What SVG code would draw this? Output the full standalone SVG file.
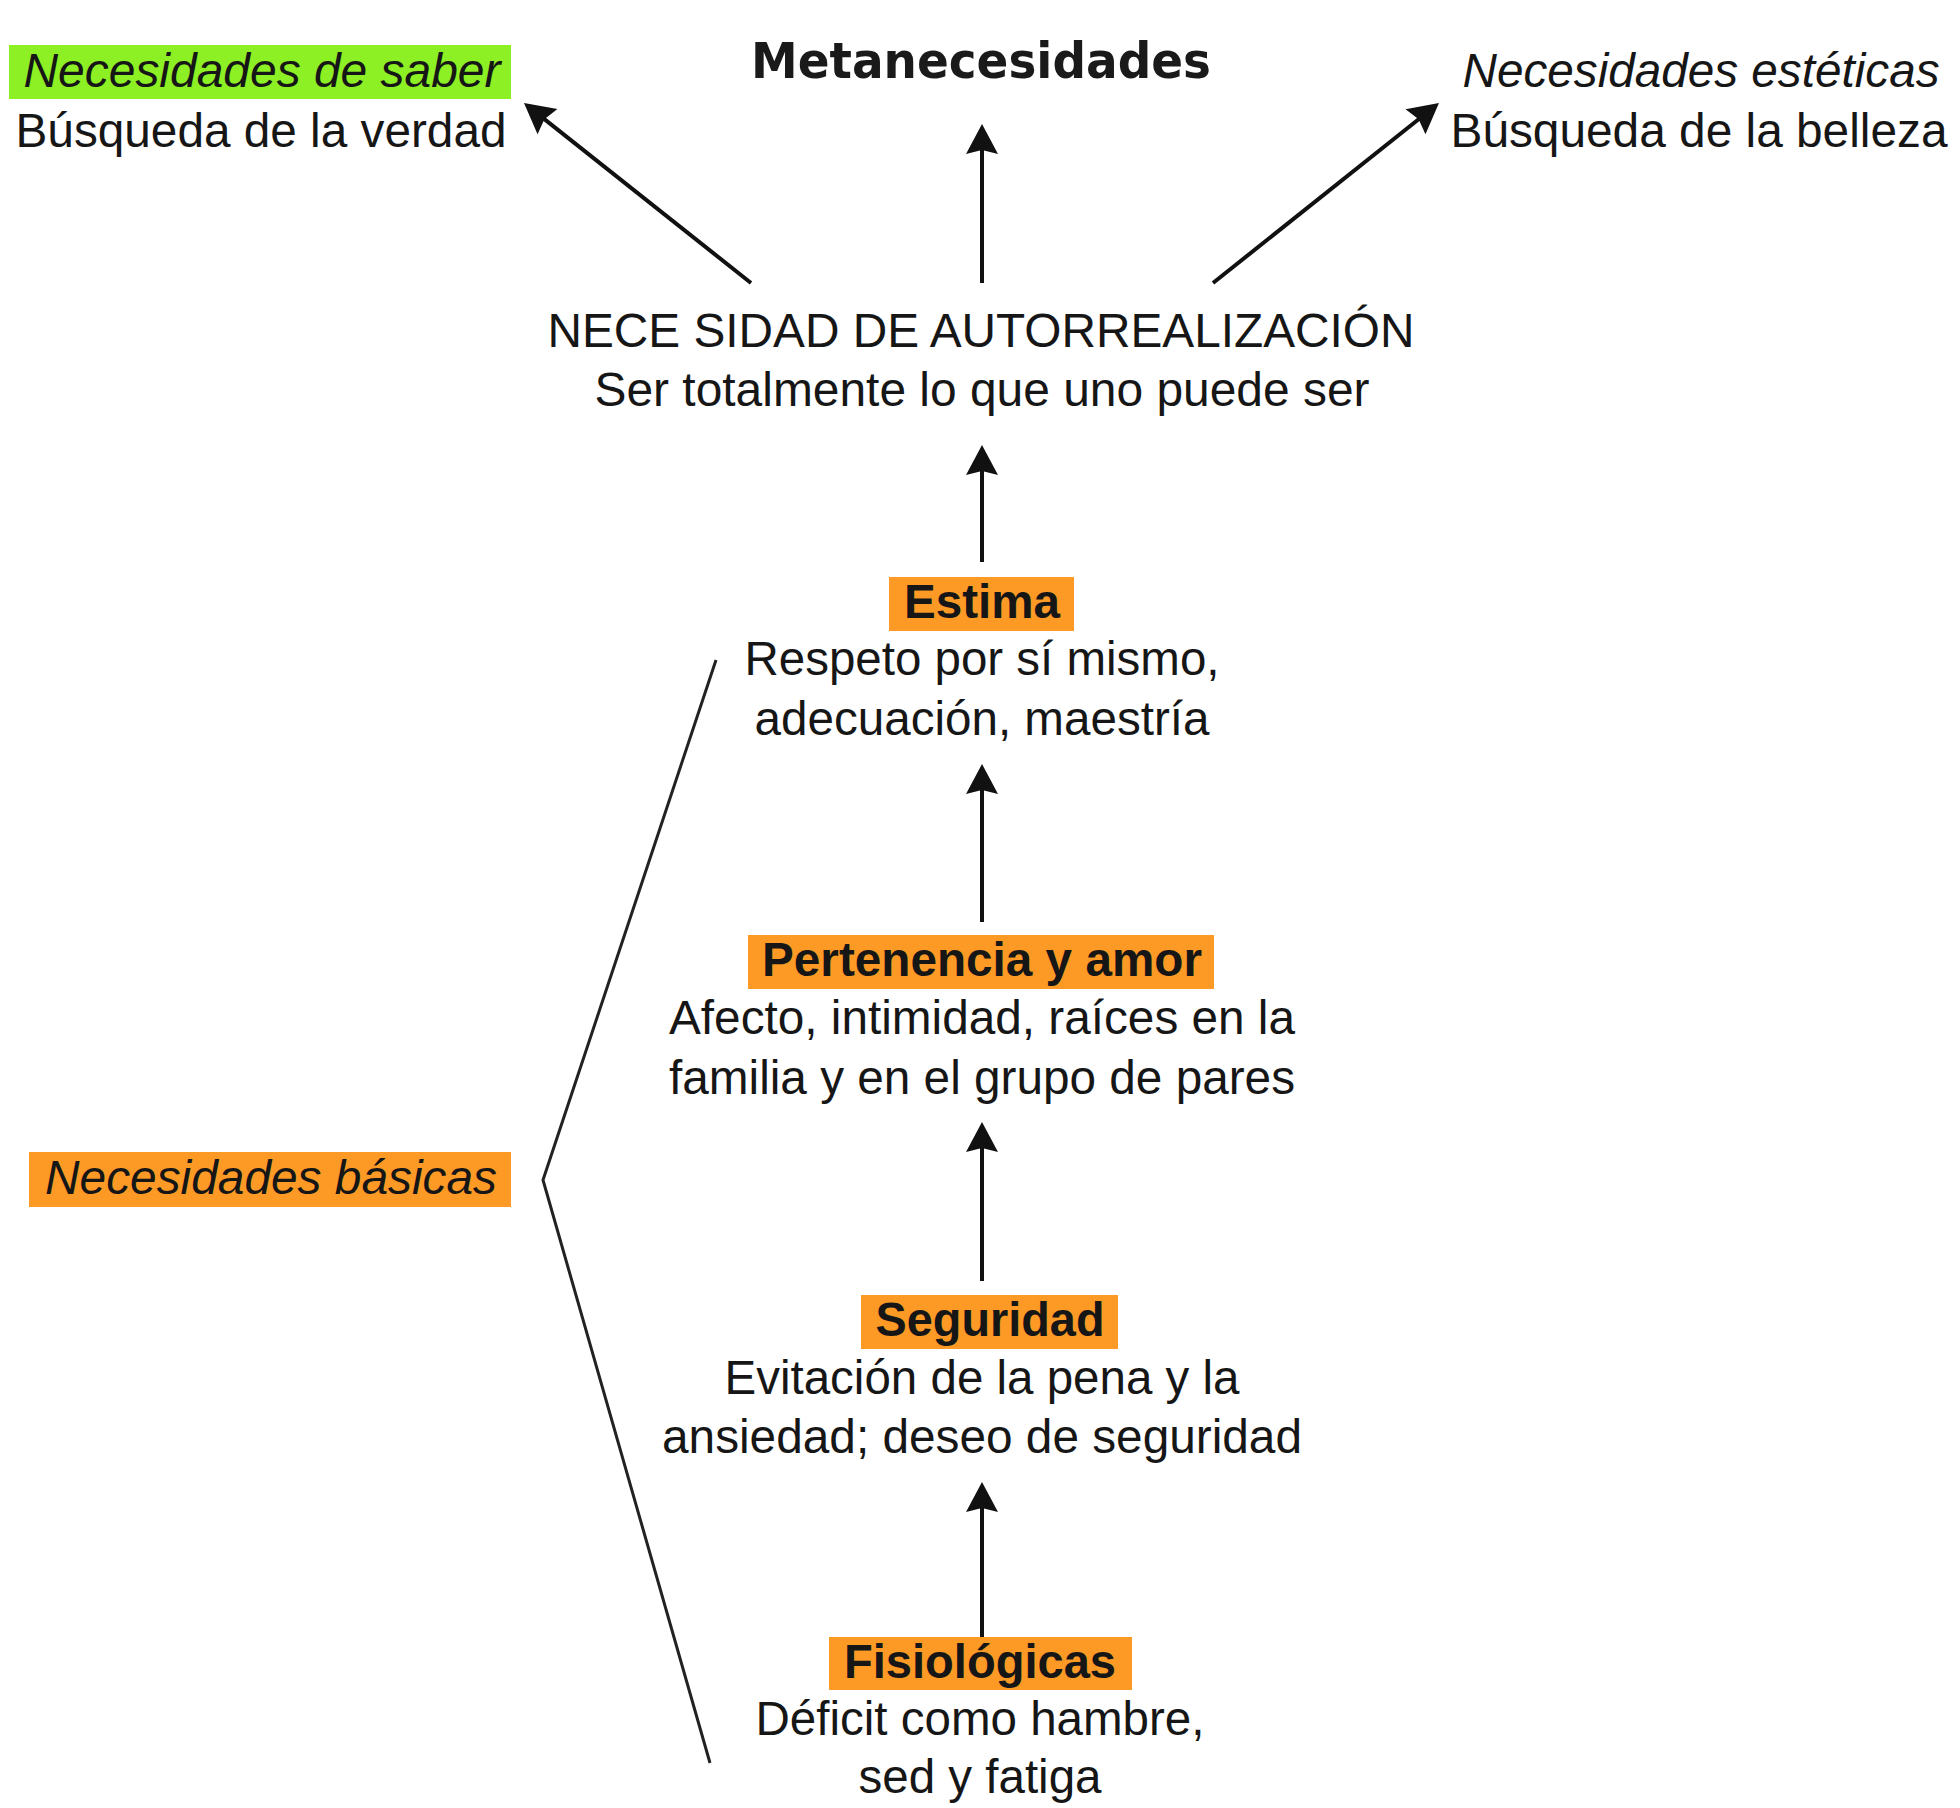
<svg xmlns="http://www.w3.org/2000/svg" width="1960" height="1808" viewBox="0 0 1960 1808">
<defs>
<style>
.t{font-family:"Liberation Sans",Arial,sans-serif;font-size:48px;fill:#161616;text-anchor:middle}
.b{font-weight:bold}
.i{font-style:italic}
.h{font-family:"DejaVu Sans","Liberation Sans",sans-serif;font-size:50px;font-weight:bold;fill:#1a1a1a;text-anchor:middle}
.box{fill:#FD9A26}
.green{fill:#8CF024}
.arrow{stroke:#111;stroke-width:4;fill:none}
.bracket{stroke:#222;stroke-width:3;fill:none;stroke-linejoin:round}
</style>
<marker id="ah" markerUnits="userSpaceOnUse" markerWidth="40" markerHeight="40" viewBox="-10 -20 40 40" refX="0" refY="0" orient="auto">
<path d="M-6,-16 L24,0 L-6,16 L-2,0 Z" fill="#111"/>
</marker>
</defs>
<rect width="1960" height="1808" fill="#ffffff"/>

<g id="connectors">
<line class="arrow" x1="982" y1="283" x2="982" y2="148" marker-end="url(#ah)"/>
<line class="arrow" x1="751" y1="283" x2="542.8" y2="117.9" marker-end="url(#ah)"/>
<line class="arrow" x1="1213" y1="283" x2="1420.2" y2="118" marker-end="url(#ah)"/>
<line class="arrow" x1="982" y1="562" x2="982" y2="469" marker-end="url(#ah)"/>
<line class="arrow" x1="982" y1="922" x2="982" y2="788" marker-end="url(#ah)"/>
<line class="arrow" x1="982" y1="1281" x2="982" y2="1146" marker-end="url(#ah)"/>
<line class="arrow" x1="982" y1="1637" x2="982" y2="1506" marker-end="url(#ah)"/>
<polyline class="bracket" points="716,660 543,1180 710,1763"/>
</g>

<g id="metanecesidades">
<text class="h" x="981" y="78" textLength="460" lengthAdjust="spacingAndGlyphs">Metanecesidades</text>
</g>

<g id="saber">
<rect class="green" x="9" y="45" width="502" height="54"/>
<text class="t i" x="262" y="87" textLength="477" lengthAdjust="spacingAndGlyphs">Necesidades de saber</text>
<text class="t" x="261" y="147" textLength="491" lengthAdjust="spacingAndGlyphs">Búsqueda de la verdad</text>
</g>

<g id="esteticas">
<text class="t i" x="1701" y="87" textLength="477" lengthAdjust="spacingAndGlyphs">Necesidades estéticas</text>
<text class="t" x="1699" y="147" textLength="497" lengthAdjust="spacingAndGlyphs">Búsqueda de la belleza</text>
</g>

<g id="autorrealizacion">
<text class="t" x="981" y="347" textLength="867" lengthAdjust="spacingAndGlyphs">NECE SIDAD DE AUTORREALIZACIÓN</text>
<text class="t" x="982" y="406" textLength="775" lengthAdjust="spacingAndGlyphs">Ser totalmente lo que uno puede ser</text>
</g>

<g id="estima">
<rect class="box" x="889" y="577" width="185" height="54"/>
<text class="t b" x="982" y="618" textLength="156" lengthAdjust="spacingAndGlyphs">Estima</text>
<text class="t" x="982" y="675" textLength="475" lengthAdjust="spacingAndGlyphs">Respeto por sí mismo,</text>
<text class="t" x="982" y="735" textLength="455" lengthAdjust="spacingAndGlyphs">adecuación, maestría</text>
</g>

<g id="pertenencia">
<rect class="box" x="748" y="935" width="466" height="54"/>
<text class="t b" x="982" y="976" textLength="440" lengthAdjust="spacingAndGlyphs">Pertenencia y amor</text>
<text class="t" x="982" y="1034" textLength="626" lengthAdjust="spacingAndGlyphs">Afecto, intimidad, raíces en la</text>
<text class="t" x="982" y="1094" textLength="626" lengthAdjust="spacingAndGlyphs">familia y en el grupo de pares</text>
</g>

<g id="seguridad">
<rect class="box" x="861" y="1295" width="257" height="54"/>
<text class="t b" x="990" y="1336" textLength="229" lengthAdjust="spacingAndGlyphs">Seguridad</text>
<text class="t" x="982" y="1394" textLength="515" lengthAdjust="spacingAndGlyphs">Evitación de la pena y la</text>
<text class="t" x="982" y="1453" textLength="640" lengthAdjust="spacingAndGlyphs">ansiedad; deseo de seguridad</text>
</g>

<g id="fisiologicas">
<rect class="box" x="829" y="1637" width="303" height="53"/>
<text class="t b" x="980" y="1678" textLength="272" lengthAdjust="spacingAndGlyphs">Fisiológicas</text>
<text class="t" x="980" y="1735" textLength="449" lengthAdjust="spacingAndGlyphs">Déficit como hambre,</text>
<text class="t" x="980" y="1793" textLength="243" lengthAdjust="spacingAndGlyphs">sed y fatiga</text>
</g>

<g id="basicas">
<rect class="box" x="29" y="1152" width="482" height="55"/>
<text class="t i" x="271" y="1194" textLength="452" lengthAdjust="spacingAndGlyphs">Necesidades básicas</text>
</g>
</svg>
